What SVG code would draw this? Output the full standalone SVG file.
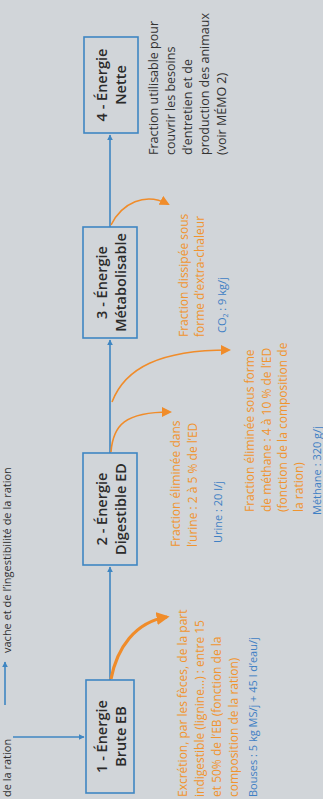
<svg xmlns="http://www.w3.org/2000/svg" width="323" height="799" viewBox="0 0 323 799">
<style>
text{font-family:"Open Sans","Liberation Sans",sans-serif}
.box{fill:none;stroke:#3f86c2;stroke-width:1.6}
.lbl{font-size:14.5px;font-weight:600;fill:#2b2b2b;text-anchor:middle}
.dark{font-size:12.5px;fill:#333}
.or{font-size:12px;fill:#f0942f}
.bl{font-size:11px;fill:#3f80c4}
.flow{stroke:#3f86c2;stroke-width:1.6;fill:none}
.oc{stroke:#f08c2a;fill:none}
.cap{font-size:11px;fill:#333}
</style>
<defs>
<marker id="ba" viewBox="0 0 10 10" refX="9" refY="5" markerWidth="6" markerHeight="6" orient="auto" markerUnits="userSpaceOnUse"><path d="M0,0L10,5L0,10z" fill="#3f86c2"/></marker>
<marker id="oa" viewBox="0 0 10 10" refX="8" refY="5" markerWidth="10" markerHeight="10" orient="auto" markerUnits="userSpaceOnUse"><path d="M0,0L10,5L0,10z" fill="#f08c2a"/></marker>
<marker id="oa2" viewBox="0 0 10 10" refX="8" refY="5" markerWidth="13" markerHeight="13" orient="auto" markerUnits="userSpaceOnUse"><path d="M0,0L10,5L0,10z" fill="#f08c2a"/></marker>
</defs>
<rect width="323" height="799" fill="#d1d5d9"/>

<g id="top-caption">
<g transform="translate(0,797) rotate(-90)"><text class="cap" x="0" y="11">de la ration</text></g>
<line x1="5" y1="705" x2="5" y2="662" class="flow" marker-end="url(#ba)"/>
<g transform="translate(0,653) rotate(-90)"><text class="cap" x="0" y="11">vache et de l’ingestibilité de la ration</text></g>
</g>

<g id="connectors">
<line x1="13" y1="737" x2="84" y2="737" class="flow" marker-end="url(#ba)"/>
<line x1="110" y1="680" x2="110" y2="567" class="flow" marker-end="url(#ba)"/>
<line x1="110" y1="453" x2="110" y2="340" class="flow" marker-end="url(#ba)"/>
<line x1="110" y1="227" x2="110" y2="135" class="flow" marker-end="url(#ba)"/>
<path class="oc" stroke-width="3.2" d="M111,679 C117,648 135,622 167,617" marker-end="url(#oa2)"/>
<path class="oc" stroke-width="1.6" d="M111,452 C113,425 125,412 170,412" marker-end="url(#oa)"/>
<path class="oc" stroke-width="1.6" d="M112,402 C125,368 160,350 229,350" marker-end="url(#oa)"/>
<path class="oc" stroke-width="1.6" d="M111,225 C122,203 145,192 168,204" marker-end="url(#oa)"/>
</g>

<g id="n1">
<rect class="box" x="86" y="680" width="48" height="113"/>
<g transform="translate(0,736.5) rotate(-90)"><text class="lbl" x="0" y="107">1 - Énergie</text><text class="lbl" x="0" y="126">Brute EB</text></g>
</g>
<g id="n2">
<rect class="box" x="83" y="453" width="54" height="112"/>
<g transform="translate(0,509) rotate(-90)"><text class="lbl" x="0" y="107">2 - Énergie</text><text class="lbl" x="0" y="126">Digestible ED</text></g>
</g>
<g id="n3">
<rect class="box" x="83" y="227" width="54" height="111"/>
<g transform="translate(0,282.5) rotate(-90)"><text class="lbl" x="0" y="107">3 - Énergie</text><text class="lbl" x="0" y="126">Métabolisable</text></g>
</g>
<g id="n4">
<rect class="box" x="84" y="37" width="54" height="96"/>
<g transform="translate(0,85) rotate(-90)"><text class="lbl" x="0" y="107">4 - Énergie</text><text class="lbl" x="0" y="126">Nette</text></g>
</g>

<g id="t-net" transform="translate(0,155) rotate(-90)">
<text class="dark" x="0" y="158">Fraction utilisable pour</text>
<text class="dark" x="0" y="175">couvrir les besoins</text>
<text class="dark" x="0" y="192">d’entretien et de</text>
<text class="dark" x="0" y="209">production des animaux</text>
<text class="dark" x="0" y="226">(voir MÉMO 2)</text>
</g>

<g id="t-feces" transform="translate(0,797) rotate(-90)">
<text class="or" x="0" y="187">Excrétion, par les fèces, de la part</text>
<text class="or" x="0" y="204">indigestible (lignine…) : entre 15</text>
<text class="or" x="0" y="221">et 50% de l’EB (fonction de la</text>
<text class="or" x="0" y="238">composition de la ration)</text>
<text class="bl" x="0" y="257">Bouses : 5 kg MS/j + 45 l d’eau/j</text>
</g>

<g id="t-urine" transform="translate(0,547) rotate(-90)">
<text class="or" x="0" y="180">Fraction éliminée dans</text>
<text class="or" x="0" y="197">l’urine : 2 à 5 % de l’ED</text>
<text class="bl" x="4" y="222">Urine : 20 l/j</text>
</g>

<g id="t-methane" transform="translate(0,512) rotate(-90)">
<text class="or" x="0" y="254">Fraction éliminée sous forme</text>
<text class="or" x="0" y="271">de méthane : 4 à 10 % de l’ED</text>
<text class="or" x="0" y="287">(fonction de la composition de</text>
<text class="or" x="0" y="303">la ration)</text>
<text class="bl" x="-3" y="321">Méthane : 320 g/j</text>
</g>

<g id="t-heat" transform="translate(0,337) rotate(-90)">
<text class="or" x="0" y="188">Fraction dissipée sous</text>
<text class="or" x="0" y="204">forme d’extra-chaleur</text>
<text class="bl" x="4" y="226">CO<tspan font-size="7" dy="2">2</tspan><tspan dy="-2"> : 9 kg/j</tspan></text>
</g>
</svg>
